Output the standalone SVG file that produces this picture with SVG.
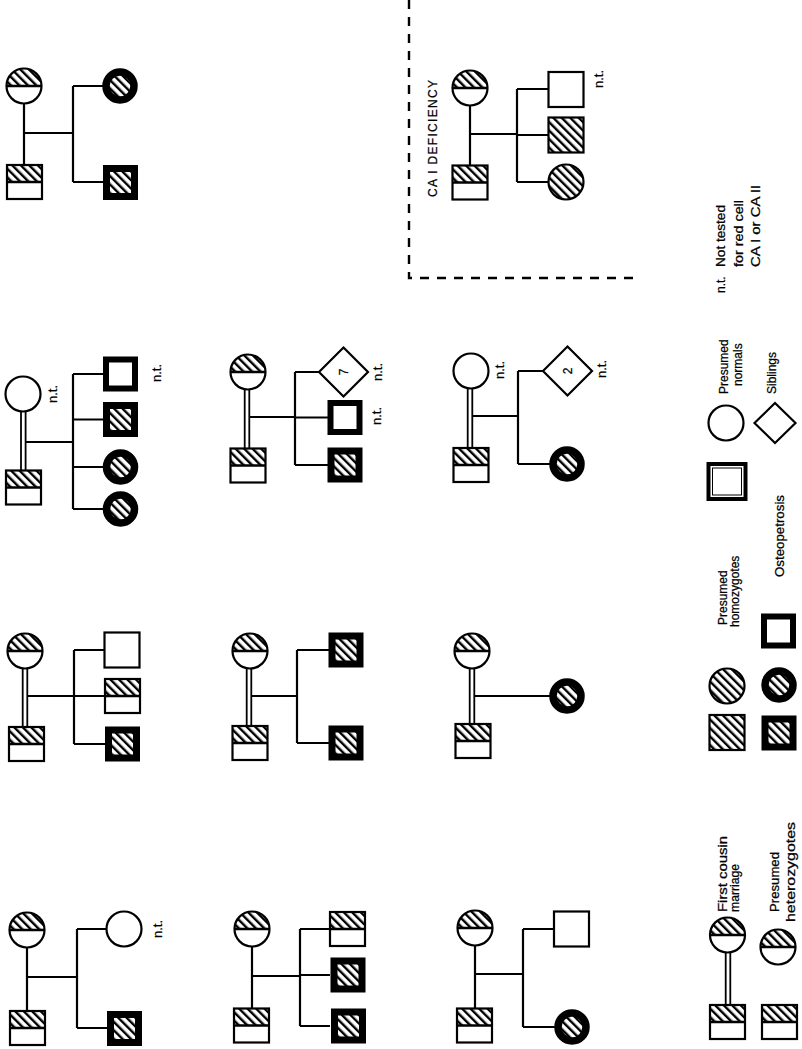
<svg xmlns="http://www.w3.org/2000/svg" width="802" height="1049" viewBox="0 0 802 1049">
<style>
.o{fill:none;stroke:#000;stroke-width:2.2}
.w{fill:#fff;stroke:#000;stroke-width:2.2}
.ln{stroke:#000;stroke-width:2.2;fill:none}
.dl{stroke:#000;stroke-width:1.8;fill:none}
.dash{stroke:#000;stroke-width:2.4;fill:none;stroke-dasharray:9 8}
.t{font-family:"Liberation Sans",Arial,sans-serif;font-size:12px;fill:#000;stroke:#000;stroke-width:0.25}
.nt{font-family:"Liberation Sans",Arial,sans-serif;font-size:13px;fill:#000;stroke:#000;stroke-width:0.25}
</style>
<defs>
<pattern id="h" patternUnits="userSpaceOnUse" width="6" height="6" patternTransform="rotate(-45)"><rect width="6" height="6" fill="#fff"/><rect x="2" width="2.4" height="6" fill="#000"/></pattern>
<g id="hetC"><circle r="17.5" fill="#fff"/><path d="M-17.5,0 A17.5,17.5 0 0 1 17.5,0 Z" fill="url(#h)"/><circle r="17.5" class="o"/><line x1="-17.5" y1="0" x2="17.5" y2="0" stroke="#000" stroke-width="2.6"/></g>
<g id="hetS"><rect x="-17.5" y="-17" width="35" height="34" fill="#fff"/><rect x="-17.5" y="-17" width="35" height="17" fill="url(#h)"/><rect x="-17.5" y="-17" width="35" height="34" class="o"/><line x1="-17.5" y1="0" x2="17.5" y2="0" stroke="#000" stroke-width="2.4"/></g>
<g id="homS"><rect x="-17.5" y="-17.5" width="35" height="35" fill="url(#h)" stroke="#000" stroke-width="2.2"/></g>
<g id="homC"><circle r="17.5" fill="url(#h)" stroke="#000" stroke-width="2.2"/></g>
<g id="ostS"><rect x="-14" y="-14" width="28" height="28" fill="url(#h)" stroke="#000" stroke-width="7"/></g>
<g id="ostE"><rect x="-14.5" y="-14.5" width="29" height="29" fill="#fff" stroke="#000" stroke-width="6"/></g>
<g id="ostC"><circle r="14" fill="url(#h)" stroke="#000" stroke-width="7.5"/></g>
<g id="nC"><circle r="17.5" class="w"/></g>
<g id="nS"><rect x="-17.5" y="-17.5" width="35" height="35" class="w"/></g>
<g id="dia"><path d="M-24.5,0 L0,-24.5 L24.5,0 L0,24.5 Z" class="w"/></g>
</defs>
<rect width="802" height="1049" fill="#fff"/>

<g id="connectors">
<path class="ln" d="M24,100 V166 M24,133 H73 M73,86 V182 M73,86 H103 M73,182 H103"/>
<path class="dl" d="M21,410 V471 M25.6,410 V471"/>
<path class="ln" d="M25,442 H73 M73,374 V509 M73,374 H103 M73,419.5 H103 M73,467 H103 M73,509 H103"/>
<path class="dl" d="M22.7,667 V728 M27.3,667 V728"/>
<path class="ln" d="M27,696 H74 M74,650 V744 M74,650 H105 M74,696 H105 M74,744 H105"/>
<path class="ln" d="M27,946 V1012 M27,977 H77 M77,929 V1028 M77,929 H106 M77,1028 H107"/>
<path class="dl" d="M244.7,389 V449 M249.3,389 V449"/>
<path class="ln" d="M249,417 H295 M295,372 V465 M295,372 H319 M295,417.5 H328 M295,465 H328"/>
<path class="dl" d="M246.7,668 V727 M251.3,668 V727"/>
<path class="ln" d="M251,696 H297 M297,650 V743 M297,650 H329 M297,743 H329"/>
<path class="ln" d="M252,946 V1009 M252,976 H300 M300,929 V1026 M300,929 H330 M300,975 H330 M300,1026 H330"/>
<path class="dl" d="M467.7,388 V449 M472.3,388 V449"/>
<path class="ln" d="M472,416 H518 M518,371 V464 M518,371 H543 M518,464 H550"/>
<path class="dl" d="M469.7,668 V725 M474.3,668 V725"/>
<path class="ln" d="M474,696 H550"/>
<path class="ln" d="M475,945 V1009 M475,974 H523 M523,929 V1027 M523,929 H554 M523,1027 H555"/>
<path class="ln" d="M470,105 V166 M470,134 H517 M517,89 V182 M517,89 H549 M517,135 H549 M517,182 H549"/>
<path class="dash" d="M409,0 V278 H640"/>
<path class="dl" d="M725.7,952 V1006 M730.3,952 V1006"/>
</g>

<g id="fam1">
<use href="#hetC" x="24" y="86"/><use href="#hetS" x="24.5" y="182"/>
<use href="#ostC" x="120" y="86"/><use href="#ostS" x="120.5" y="182.5"/>
</g>
<g id="fam2">
<use href="#nC" x="23" y="394"/><use href="#hetS" x="23.5" y="487.5"/>
<use href="#ostE" x="120.5" y="374"/><use href="#ostS" x="120.5" y="419.5"/>
<use href="#ostC" x="120.5" y="467"/><use href="#ostC" x="120.5" y="509"/>
<text class="nt" transform="translate(57,403) rotate(-90)">n.t.</text>
<text class="nt" transform="translate(161,382) rotate(-90)">n.t.</text>
</g>
<g id="fam3">
<use href="#hetC" x="25" y="651"/><use href="#hetS" x="26.5" y="744"/>
<use href="#nS" x="122" y="650"/><use href="#hetS" x="122.5" y="696"/><use href="#ostS" x="122.5" y="744"/>
</g>
<g id="fam4">
<use href="#hetC" x="27" y="930"/><use href="#hetS" x="27.5" y="1028"/>
<use href="#nC" x="124" y="929"/><use href="#ostS" x="124.5" y="1028.5"/>
<text class="nt" transform="translate(162,938) rotate(-90)">n.t.</text>
</g>
<g id="fam5">
<use href="#hetC" x="248" y="372"/><use href="#hetS" x="248" y="465.5"/>
<use href="#dia" x="343.5" y="372"/><use href="#ostE" x="345" y="417.5"/><use href="#ostS" x="345" y="465"/>
<text class="t" font-size="11" text-anchor="middle" transform="translate(347.5,372) rotate(-90)">7</text>
<text class="nt" transform="translate(382,381) rotate(-90)">n.t.</text>
<text class="nt" transform="translate(381,425) rotate(-90)">n.t.</text>
</g>
<g id="fam6">
<use href="#hetC" x="250" y="651"/><use href="#hetS" x="250" y="743"/>
<use href="#ostS" x="346" y="650"/><use href="#ostS" x="346" y="743"/>
</g>
<g id="fam7">
<use href="#hetC" x="252" y="929"/><use href="#hetS" x="251.5" y="1025.5"/>
<use href="#hetS" x="347.5" y="929"/><use href="#ostS" x="348" y="975"/><use href="#ostS" x="348.5" y="1026"/>
</g>
<g id="fam8">
<use href="#nC" x="471" y="371"/><use href="#hetS" x="471" y="465"/>
<use href="#dia" x="567.5" y="371"/><use href="#ostC" x="567" y="464"/>
<text class="t" font-size="11" text-anchor="middle" transform="translate(571.5,371) rotate(-90)">2</text>
<text class="nt" transform="translate(504,379) rotate(-90)">n.t.</text>
<text class="nt" transform="translate(606,378) rotate(-90)">n.t.</text>
</g>
<g id="fam10">
<use href="#hetC" x="472" y="651"/><use href="#hetS" x="473" y="741"/>
<use href="#ostC" x="567" y="696"/>
</g>
<g id="fam9">
<use href="#hetC" x="475" y="928"/><use href="#hetS" x="474.5" y="1025.5"/>
<use href="#nS" x="571.5" y="929"/><use href="#ostC" x="572" y="1027"/>
</g>
<g id="caI">
<use href="#hetC" x="470" y="88"/><use href="#hetS" x="470" y="182.5"/>
<use href="#nS" x="566" y="89.5"/><use href="#homS" x="566" y="135"/><use href="#homC" x="566" y="182"/>
<text class="t" font-size="13" textLength="117" lengthAdjust="spacing" transform="translate(437,197) rotate(-90)">CA I DEFICIENCY</text>
<text class="nt" transform="translate(603,88) rotate(-90)">n.t.</text>
</g>

<g id="legend">
<use href="#hetC" x="727.5" y="935"/><use href="#hetS" x="727.5" y="1022"/>
<use href="#hetC" x="778" y="947"/><use href="#hetS" x="779.5" y="1022"/>
<text class="t" font-size="13" textLength="76" lengthAdjust="spacingAndGlyphs" transform="translate(727,912) rotate(-90)">First cousin</text>
<text class="t" font-size="13" textLength="48" lengthAdjust="spacingAndGlyphs" transform="translate(739,912) rotate(-90)">marriage</text>
<text class="t" font-size="13" textLength="60" lengthAdjust="spacingAndGlyphs" transform="translate(779,912) rotate(-90)">Presumed</text>
<text class="t" font-size="13" textLength="100" lengthAdjust="spacingAndGlyphs" transform="translate(795,922) rotate(-90)">heterozygotes</text>
<use href="#homS" x="727" y="732.5"/><use href="#homC" x="727" y="686"/>
<use href="#ostS" x="779" y="733"/><use href="#ostC" x="779" y="685"/><use href="#ostE" x="778.5" y="631"/>
<text class="t" font-size="11.5" transform="translate(727,625) rotate(-90)">Presumed</text>
<text class="t" font-size="11.5" transform="translate(738.5,627) rotate(-90)">homozygotes</text>
<text class="t" font-size="13" textLength="82" lengthAdjust="spacingAndGlyphs" transform="translate(784,577) rotate(-90)">Osteopetrosis</text>
<rect x="708.5" y="464" width="37" height="35" fill="#fff" stroke="#000" stroke-width="4"/>
<rect x="712.5" y="468" width="29" height="27" fill="none" stroke="#000" stroke-width="1"/>
<use href="#nC" x="726" y="423"/>
<path d="M754.5,423 L775,403 L795.5,423 L775,443 Z" class="w"/>
<text class="t" font-size="11.5" transform="translate(728,394) rotate(-90)">Presumed</text>
<text class="t" font-size="11.5" transform="translate(742,386) rotate(-90)">normals</text>
<text class="t" font-size="11.5" transform="translate(776,394) rotate(-90)">Siblings</text>
<text class="t" transform="translate(725,293) rotate(-90)">n.t.</text>
<text class="t" textLength="62" lengthAdjust="spacingAndGlyphs" transform="translate(725,267) rotate(-90)">Not tested</text>
<text class="t" textLength="67" lengthAdjust="spacingAndGlyphs" transform="translate(743,267) rotate(-90)">for red cell</text>
<text class="t" textLength="82" lengthAdjust="spacingAndGlyphs" transform="translate(760,267) rotate(-90)">CA I or CA II</text>
</g>
</svg>
